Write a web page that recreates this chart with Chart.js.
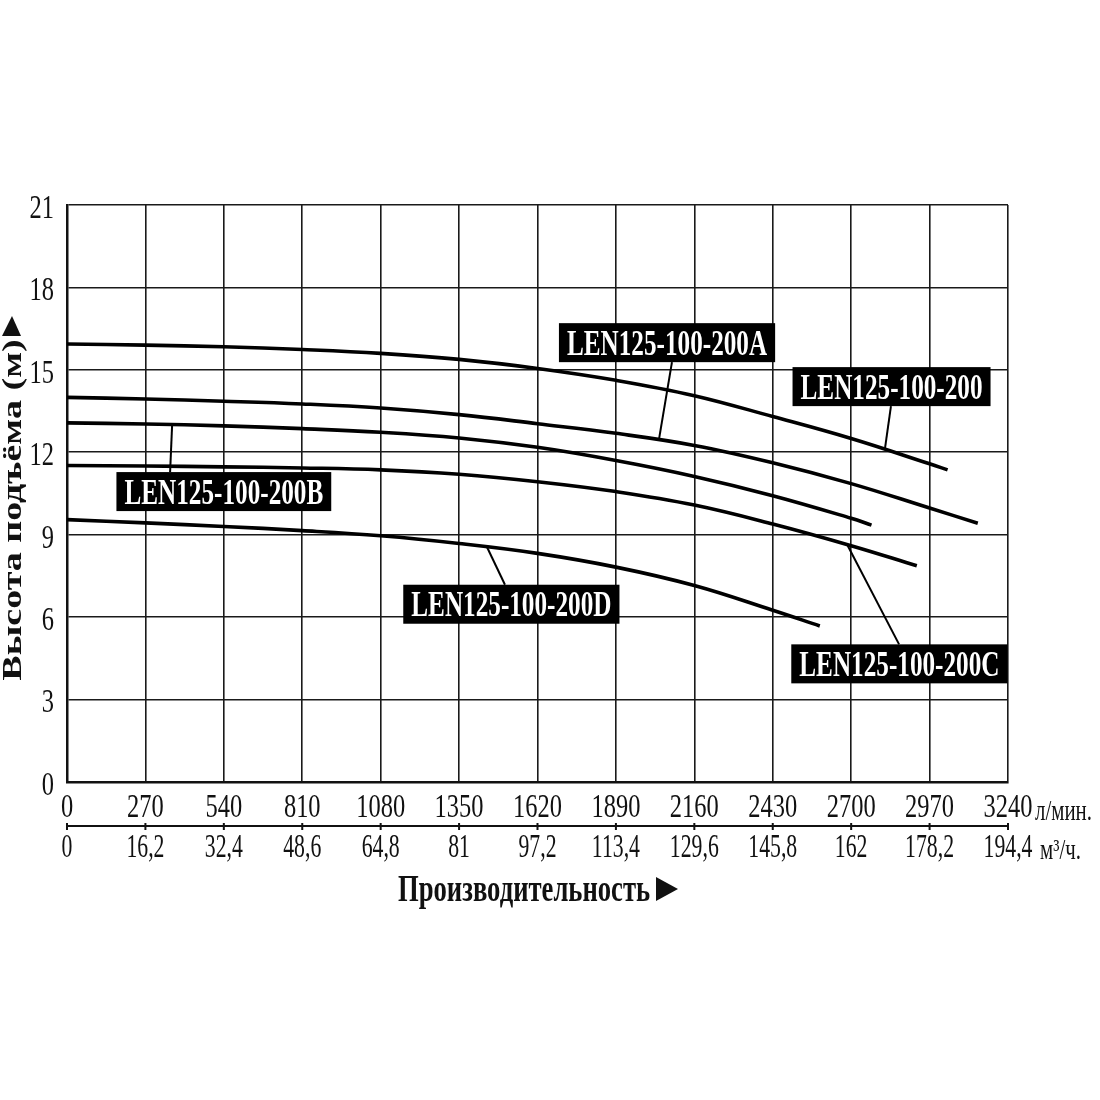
<!DOCTYPE html>
<html>
<head>
<meta charset="utf-8">
<script src="https://cdn.jsdelivr.net/npm/chart.js@4.4.1/dist/chart.umd.min.js"></script>
<style>
  html, body { margin: 0; background: #fff; }
  #wrap { width: 1100px; height: 1100px; position: relative; }
</style>
</head>
<body>
<div id="wrap"><canvas id="chart"></canvas></div>
<script>
// axes
const flowTicks = [0, 270, 540, 810, 1080, 1350, 1620, 1890, 2160, 2430, 2700, 2970, 3240];
const m3Ticks = ['0', '16,2', '32,4', '48,6', '64,8', '81', '97,2', '113,4', '129,6', '145,8', '162', '178,2', '194,4'];
const headTicks = [0, 3, 6, 9, 12, 15, 18, 21];

// curves (flow л/мин -> head м)
const q200 = [0, 270, 540, 810, 1080, 1350, 1620, 1890, 2160, 2430, 2700, 2970, 3032];
const h200 = [15.94, 15.9, 15.84, 15.74, 15.6, 15.38, 15.05, 14.62, 14.06, 13.3, 12.5, 11.58, 11.36];
const q200A = [0, 270, 540, 810, 1080, 1350, 1620, 1890, 2160, 2430, 2700, 2970, 3136];
const h200A = [14.0, 13.94, 13.86, 13.76, 13.61, 13.37, 13.04, 12.69, 12.25, 11.62, 10.86, 9.97, 9.42];
const q200B = [0, 270, 540, 810, 1080, 1350, 1620, 1890, 2160, 2430, 2700, 2770];
const h200B = [13.07, 13.03, 12.96, 12.86, 12.73, 12.52, 12.18, 11.7, 11.12, 10.42, 9.6, 9.35];
const q200C = [0, 270, 540, 810, 1080, 1350, 1620, 1890, 2160, 2430, 2700, 2926];
const h200C = [11.52, 11.5, 11.47, 11.43, 11.36, 11.2, 10.93, 10.57, 10.08, 9.39, 8.6, 7.87];
const q200D = [0, 270, 540, 810, 1080, 1350, 1620, 1890, 2160, 2430, 2592];
const h200D = [9.55, 9.43, 9.3, 9.15, 8.96, 8.68, 8.32, 7.82, 7.15, 6.25, 5.68];

const names = ['LEN125-100-200', 'LEN125-100-200A', 'LEN125-100-200B', 'LEN125-100-200C', 'LEN125-100-200D'];

// label boxes: centre (flow, head), leader start flow, leader end flow on curve
const boxQ = [2839, 2066, 540, 2866, 1530];
const boxH = [14.39, 15.99, 10.57, 4.3, 6.47];
const leadFromQ = [2837, 2083, 355, 2865, 1508];
const leadToQ = [2816, 2038, 362, 2686, 1446];

const curves = [[q200, h200], [q200A, h200A], [q200B, h200B], [q200C, h200C], [q200D, h200D]];

function headAt(qs, hs, q) {
  for (let i = 1; i < qs.length; i++) {
    if (q <= qs[i]) {
      const t = (q - qs[i - 1]) / (qs[i] - qs[i - 1]);
      return hs[i - 1] + t * (hs[i] - hs[i - 1]);
    }
  }
  return hs[hs.length - 1];
}

const SX = 0.72; // narrow type, as in the scan
const serif = '"Liberation Serif", "Times New Roman", serif';

function txt(ctx, s, x, y, font, align, base, sx) {
  ctx.save();
  ctx.translate(x, y);
  ctx.scale(sx || SX, 1);
  ctx.font = font;
  ctx.textAlign = align || 'center';
  ctx.textBaseline = base || 'middle';
  ctx.fillText(s, 0, 0);
  ctx.restore();
}

const textPlugin = {
  id: 'texts',
  afterDraw(chart) {
    const ctx = chart.ctx;
    const xs = chart.scales.x, ys = chart.scales.y;
    const left = xs.getPixelForValue(0), right = xs.getPixelForValue(3240);
    ctx.save();
    ctx.fillStyle = '#111';
    ctx.strokeStyle = '#111';

    // y tick labels
    headTicks.forEach(v => {
      txt(ctx, String(v), left - 13, ys.getPixelForValue(v) + 4, '34px ' + serif, 'right');
    });

    // first row: л/мин
    flowTicks.forEach(v => {
      txt(ctx, String(v), xs.getPixelForValue(v), ys.bottom + 26, '34px ' + serif, 'center');
    });
    txt(ctx, 'л/мин.', right + 27, ys.bottom + 30, '29px ' + serif, 'left');

    // second axis line: м³/ч
    const y2 = ys.bottom + 44;
    ctx.lineWidth = 2;
    ctx.beginPath();
    ctx.moveTo(left, y2);
    ctx.lineTo(right, y2);
    flowTicks.forEach(v => {
      const px = xs.getPixelForValue(v);
      ctx.moveTo(px, y2 - 3);
      ctx.lineTo(px, y2 + 4);
    });
    ctx.stroke();
    flowTicks.forEach((v, i) => {
      txt(ctx, m3Ticks[i], xs.getPixelForValue(v), y2 + 22, '34px ' + serif, 'center', 'middle', 0.64);
    });
    txt(ctx, 'м³/ч.', right + 32, y2 + 25, '29px ' + serif, 'left');

    // x title
    txt(ctx, 'Производительность', 398, 901, 'bold 37px ' + serif, 'left', 'alphabetic');
    ctx.beginPath();
    ctx.moveTo(656, 877);
    ctx.lineTo(678, 889);
    ctx.lineTo(656, 901);
    ctx.closePath();
    ctx.fill();

    // y title
    ctx.save();
    ctx.translate(21, 510);
    ctx.rotate(-Math.PI / 2);
    ctx.scale(1, SX);
    ctx.font = 'bold 38px ' + serif;
    ctx.textAlign = 'center';
    ctx.textBaseline = 'alphabetic';
    ctx.fillText('Высота подъёма (м)', 0, 0);
    ctx.restore();
    ctx.beginPath();
    ctx.moveTo(2, 336);
    ctx.lineTo(12, 316);
    ctx.lineTo(21, 336);
    ctx.closePath();
    ctx.fill();

    // curve labels
    names.forEach((name, i) => {
      const cx = xs.getPixelForValue(boxQ[i]);
      const cy = ys.getPixelForValue(boxH[i]);
      ctx.font = 'bold 35px ' + serif;
      const w = ctx.measureText(name).width * SX + 16;
      const h = 39;
      const [qs, hs] = curves[i];
      const tx = xs.getPixelForValue(leadToQ[i]);
      const ty = ys.getPixelForValue(headAt(qs, hs, leadToQ[i]));
      const fx = xs.getPixelForValue(leadFromQ[i]);
      const fy = ty > cy ? cy + h / 2 : cy - h / 2;
      ctx.strokeStyle = '#000';
      ctx.lineWidth = 2;
      ctx.beginPath();
      ctx.moveTo(fx, fy);
      ctx.lineTo(tx, ty);
      ctx.stroke();
      ctx.fillStyle = '#000';
      ctx.fillRect(cx - w / 2, cy - h / 2, w, h);
      ctx.fillStyle = '#fff';
      txt(ctx, name, cx, cy + 12, 'bold 35px ' + serif, 'center', 'alphabetic');
    });
    ctx.restore();
  }
};

const datasets = curves.map((c, i) => ({
  label: names[i],
  data: c[0].map((q, j) => ({ x: q, y: c[1][j] })),
  borderColor: '#000',
  borderWidth: 3.6,
  pointRadius: 0,
  fill: false,
  tension: 0.4
}));

const config = {
  type: 'line',
  data: { datasets: datasets },
  options: {
    responsive: true,
    maintainAspectRatio: false,
    animation: false,
    events: [],
    layout: { padding: { left: 67, right: 92, top: 205, bottom: 318 } },
    plugins: { legend: { display: false }, tooltip: { enabled: false } },
    scales: {
      x: {
        type: 'linear',
        min: 0,
        max: 3240,
        afterBuildTicks: s => { s.ticks = flowTicks.map(v => ({ value: v })); },
        ticks: { display: false },
        grid: { color: '#1a1a1a', lineWidth: 1.6, drawTicks: false },
        border: { color: '#111', width: 2.5 }
      },
      y: {
        type: 'linear',
        min: 0,
        max: 21,
        afterBuildTicks: s => { s.ticks = headTicks.map(v => ({ value: v })); },
        ticks: { display: false },
        grid: { color: '#1a1a1a', lineWidth: 1.6, drawTicks: false },
        border: { color: '#111', width: 2.5 }
      }
    }
  },
  plugins: [textPlugin]
};

const myChart = new Chart(document.getElementById('chart'), config);
</script>
</body>
</html>
